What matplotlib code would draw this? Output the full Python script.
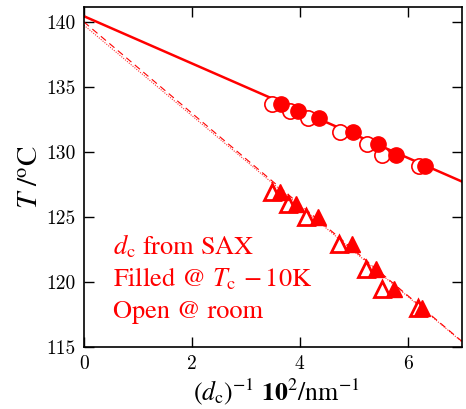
import numpy as np
import matplotlib
matplotlib.use("Agg")
import matplotlib.pyplot as plt

# ============================
# data
# ============================
x_filled_c = [3.66, 3.96, 4.35, 4.98, 5.44, 5.78, 6.31]
x_open_c = [3.49, 3.81, 4.15, 4.74, 5.25, 5.53, 6.21]
t_circ = [133.67, 133.15, 132.64, 131.56, 130.59, 129.74, 128.95]

x_filled_t = [3.63, 3.93, 4.33, 4.96, 5.41, 5.75, 6.27]
x_open_t = [3.48, 3.78, 4.12, 4.72, 5.23, 5.53, 6.19]
t_tri = [126.95, 126.0, 124.98, 122.92, 120.98, 119.44, 117.97]

# fitted lines (intercept, slope)
fit_solid = (140.44, -1.817)
fit_dashed = (140.0, -3.51)
fit_dotted = (139.75, -3.48)

red = "#ff0000"

fig = plt.figure(figsize=(4.66, 4.09), dpi=100)
ax = fig.add_axes([0.180, 0.152, 0.811, 0.831])

xx = np.array([0.0, 7.0])
ax.plot(xx, fit_solid[0] + fit_solid[1] * xx, color=red, lw=1.8, zorder=2)
ax.plot(xx, fit_dashed[0] + fit_dashed[1] * xx, color=red, lw=0.8,
        dashes=(6, 4), zorder=2)
ax.plot(xx, fit_dotted[0] + fit_dotted[1] * xx, color=red, lw=0.8,
        ls=(0, (1, 1.2)), alpha=0.8, zorder=2)

ax.plot(x_open_c, t_circ, "o", ms=11, mfc="white", mec=red, mew=1.2, ls="none", zorder=3)
ax.plot(x_filled_c, t_circ, "o", ms=11, mfc=red, mec=red, ls="none", zorder=4)
ax.plot(x_open_t, t_tri, "^", ms=12, mfc="white", mec=red, mew=2.0, ls="none", zorder=3)
ax.plot(x_filled_t, t_tri, "^", ms=12, mfc=red, mec=red, ls="none", zorder=4)

ax.set_xlim(0, 7)
ax.set_ylim(115, 141.15)
ax.set_xticks([0, 2, 4, 6])
ax.set_yticks([115, 120, 125, 130, 135, 140])
ax.tick_params(direction="in", length=7, width=1.0, top=True, right=True,
               labelsize=14, labelfontfamily="cmr10", pad=6)
for s in ax.spines.values():
    s.set_linewidth(1.2)

ax.set_xlabel(r"$(d_{\rm c})^{-1}\ \mathbf{10}^{2}/{\rm nm}^{-1}$",
              fontsize=18.5, family="STIXGeneral", math_fontfamily="stix")
ax.xaxis.set_label_coords(0.51, -0.088)
ax.set_ylabel(r"$T\ /^{\rm o}{\rm C}$", fontsize=21,
              family="STIXGeneral", math_fontfamily="stix")
ax.yaxis.set_label_coords(-0.105, 0.5)

lines = [r"$d_{\rm c}$ from SAX",
         r"Filled @ $T_{\rm c}\,-$10K",
         "Open @ room"]
for i, s in enumerate(lines):
    ax.text(0.077, 0.272 - i * 0.093, s, transform=ax.transAxes, color=red,
            fontsize=19, family="STIXGeneral", math_fontfamily="stix",
            va="baseline", ha="left")

fig.savefig("out.png", dpi=100)
